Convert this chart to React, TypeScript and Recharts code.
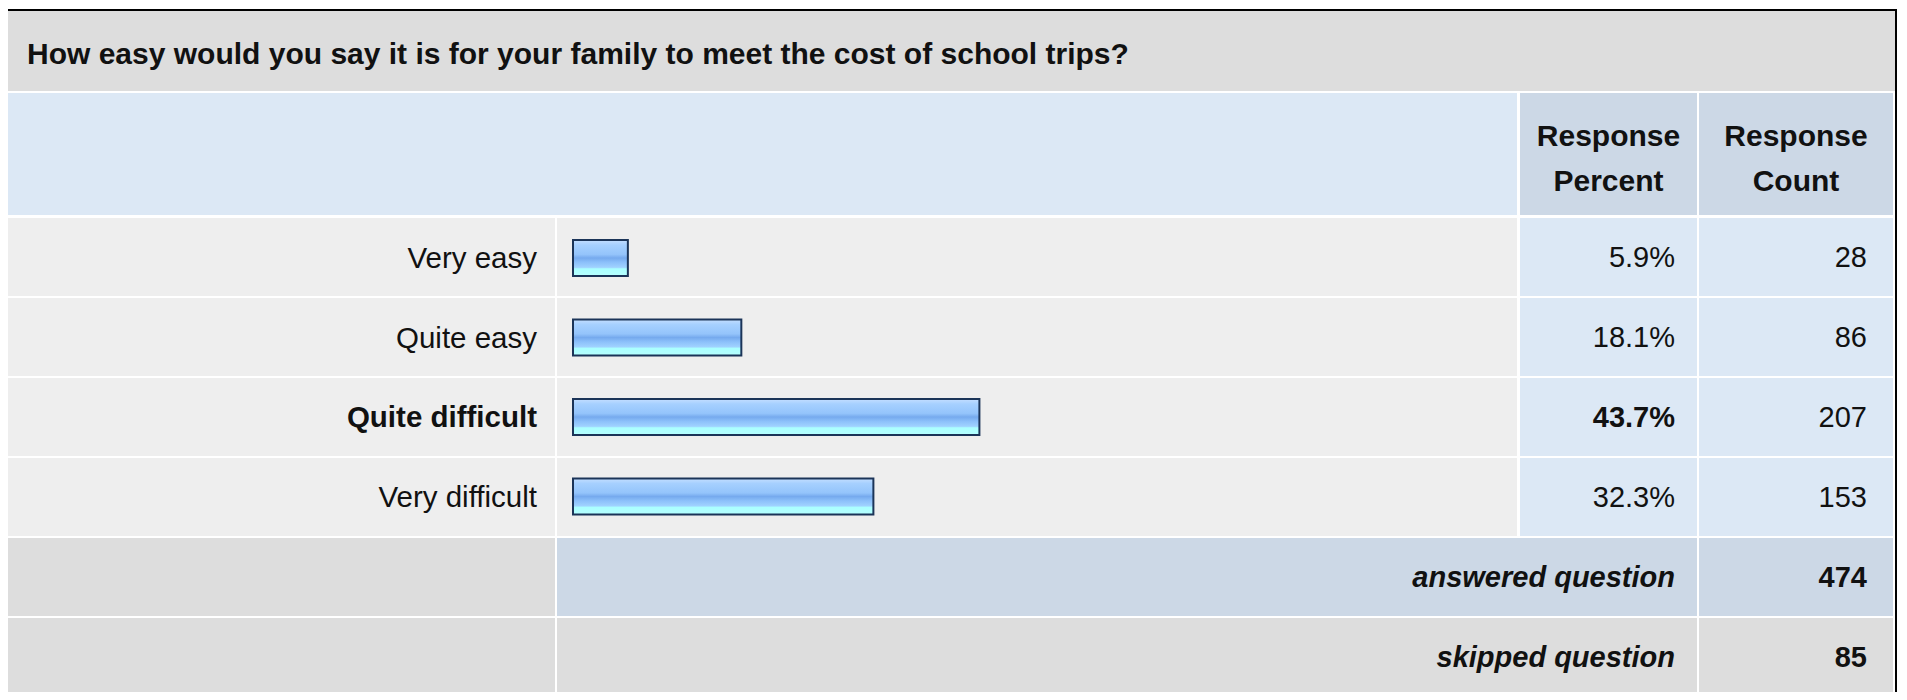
import React from "react";
import { BarChart, Bar, XAxis, YAxis } from "recharts";

const question = "How easy would you say it is for your family to meet the cost of school trips?";
const categories = ["Very easy", "Quite easy", "Quite difficult", "Very difficult"];
const percents = [5.9, 18.1, 43.7, 32.3];
const counts = [28, 86, 207, 153];
const answeredCount = 474;
const skippedCount = 85;

const data = categories.map((label, i) => ({ label, percent: percents[i], count: counts[i] }));
const topPercent = Math.max(...percents);

const FONT = '"Liberation Sans", Arial, Helvetica, sans-serif';
const FS = 29;

const ROW_TOP = 218;
const ROW_STEP = 80;
const ROW_H = 78;

const cell = (left: number, top: number, width: number, height: number, bg: string): React.CSSProperties => ({
  position: "absolute",
  left,
  top,
  width,
  height,
  background: bg,
  boxSizing: "border-box",
});

const LabelTick = (props: any) => {
  const { x, y, payload } = props;
  const isTop = percents[categories.indexOf(payload.value)] === topPercent;
  return (
    <text
      x={x}
      y={y}
      dy="0.36em"
      textAnchor="end"
      fontFamily={FONT}
      fontSize={29.5}
      fontWeight={isTop ? "bold" : "normal"}
      fill="#111"
    >
      {payload.value}
    </text>
  );
};

const rightText = (bold: boolean, italic = false): React.CSSProperties => ({
  display: "flex",
  alignItems: "center",
  justifyContent: "flex-end",
  fontWeight: bold ? "bold" : "normal",
  fontStyle: italic ? "italic" : "normal",
});

const headerCell: React.CSSProperties = {
  display: "flex",
  flexDirection: "column",
  alignItems: "center",
  justifyContent: "center",
  fontWeight: "bold",
  fontSize: 30,
  lineHeight: "45px",
  paddingTop: 8,
};

export default function App() {
  const summaryTop = ROW_TOP + ROW_STEP * categories.length;
  return (
    <div style={{ position: "relative", width: 1907, height: 700, margin: -8, fontFamily: FONT, fontSize: FS, color: "#111", overflow: "hidden" }}>
      <div style={{ position: "absolute", left: 6, top: 9, width: 1891, height: 720, border: "2px solid #000", background: "#fff", boxSizing: "border-box" }} />

      {/* title */}
      <div style={{ ...cell(8, 11, 1887, 80, "#dddddd"), display: "flex", alignItems: "center", paddingLeft: 19, paddingTop: 6, fontWeight: "bold", fontSize: 30 }}>
        {question}
      </div>

      {/* header */}
      <div style={cell(8, 93, 1509, 122, "#dce8f5")} />
      <div style={{ ...cell(1520, 93, 177, 122, "#ccd8e6"), ...headerCell }}>
        <span>Response</span>
        <span>Percent</span>
      </div>
      <div style={{ ...cell(1699, 93, 194, 122, "#ccd8e6"), ...headerCell }}>
        <span>Response</span>
        <span>Count</span>
      </div>

      {/* answer rows */}
      {data.map((d, i) => {
        const top = ROW_TOP + ROW_STEP * i;
        return (
          <React.Fragment key={d.label}>
            <div style={cell(8, top, 547, ROW_H, "#eeeeee")} />
            <div style={cell(557, top, 960, ROW_H, "#eeeeee")} />
            <div style={{ ...cell(1520, top, 177, ROW_H, "#dce8f5"), ...rightText(d.percent === topPercent), paddingRight: 22 }}>
              {d.percent.toFixed(1)}%
            </div>
            <div style={{ ...cell(1699, top, 194, ROW_H, "#dce8f5"), ...rightText(false), paddingRight: 26 }}>
              {d.count}
            </div>
          </React.Fragment>
        );
      })}

      {/* summary rows */}
      <div style={cell(8, summaryTop, 547, ROW_H, "#dddddd")} />
      <div style={{ ...cell(557, summaryTop, 1140, ROW_H, "#ccd8e6"), ...rightText(true, true), paddingRight: 22 }}>
        answered question
      </div>
      <div style={{ ...cell(1699, summaryTop, 194, ROW_H, "#ccd8e6"), ...rightText(true), paddingRight: 26 }}>
        {answeredCount}
      </div>
      <div style={cell(8, summaryTop + ROW_STEP, 547, ROW_H, "#dddddd")} />
      <div style={{ ...cell(557, summaryTop + ROW_STEP, 1140, ROW_H, "#dddddd"), ...rightText(true, true), paddingRight: 22 }}>
        skipped question
      </div>
      <div style={{ ...cell(1699, summaryTop + ROW_STEP, 194, ROW_H, "#dddddd"), ...rightText(true), paddingRight: 26 }}>
        {skippedCount}
      </div>

      {/* bars */}
      <div style={{ position: "absolute", left: 8, top: ROW_TOP, width: 1509, height: ROW_STEP * categories.length - 2 }}>
        <BarChart
          width={1509}
          height={ROW_STEP * categories.length - 2}
          data={data}
          layout="vertical"
          margin={{ top: 0, right: 14, bottom: 0, left: 0 }}
          barCategoryGap={0}
        >
          <defs>
            <linearGradient id="barFill" x1="0" y1="0" x2="0" y2="1">
              <stop offset="0%" stopColor="#c4deff" />
              <stop offset="14%" stopColor="#a6d0ff" />
              <stop offset="40%" stopColor="#94c4fb" />
              <stop offset="50%" stopColor="#76aaee" />
              <stop offset="62%" stopColor="#8cc0fa" />
              <stop offset="76%" stopColor="#a0d2ff" />
              <stop offset="80%" stopColor="#aaffff" />
              <stop offset="100%" stopColor="#b6ffff" />
            </linearGradient>
          </defs>
          <XAxis type="number" domain={[0, 100]} hide />
          <YAxis
            type="category"
            dataKey="label"
            width={565}
            axisLine={false}
            tickLine={false}
            tickSize={0}
            tickMargin={36}
            tick={<LabelTick />}
            interval={0}
          />
          <Bar dataKey="percent" barSize={36} fill="url(#barFill)" stroke="#1b3458" strokeWidth={2} isAnimationActive={false} />
        </BarChart>
      </div>
    </div>
  );
}
